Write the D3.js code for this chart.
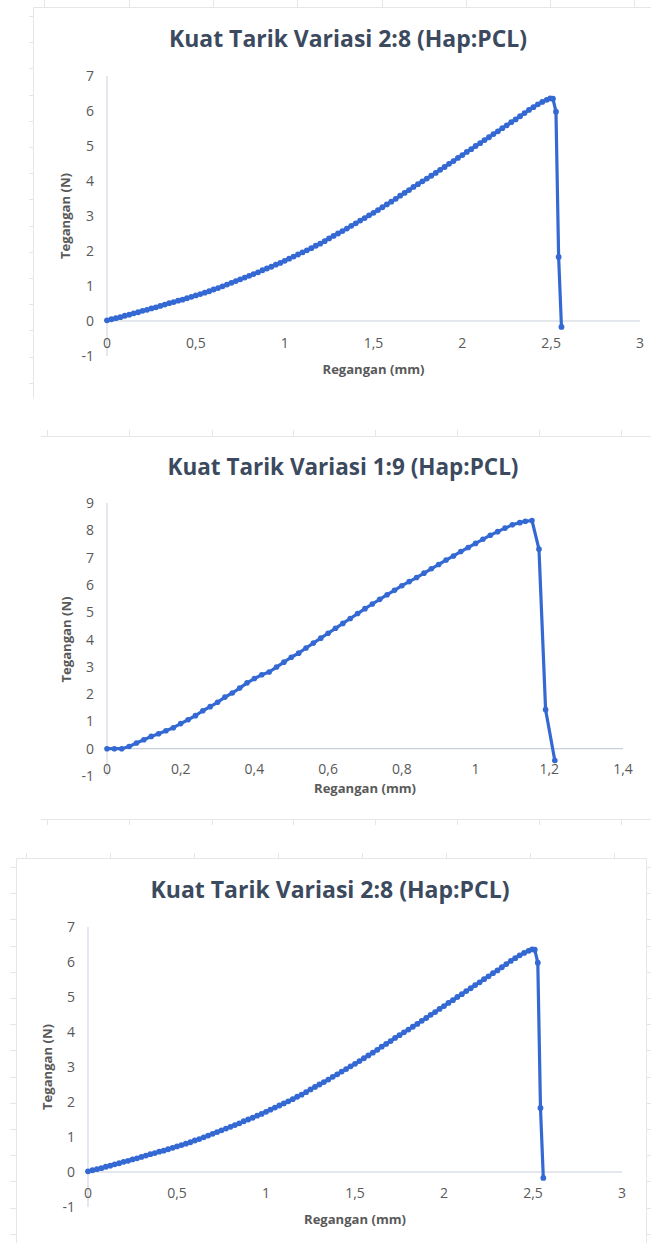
<!DOCTYPE html>
<html>
<head>
<meta charset="utf-8">
<script src="https://cdn.jsdelivr.net/npm/d3@7"></script>
<style>
  html, body { margin: 0; padding: 0; background: #fff; }
  svg { display: block; }
</style>
</head>
<body>
<div id="page"></div>
<script>
// variasi 2:8 (dipakai di grafik 1 dan 3)
const strain28 = [
  0, 0.025, 0.05, 0.075, 0.1, 0.125, 0.15, 0.175, 0.2, 0.225, 0.25, 0.275, 0.3, 0.325, 0.35, 0.375,
  0.4, 0.425, 0.45, 0.475, 0.5, 0.525, 0.55, 0.575, 0.6, 0.625, 0.65, 0.675, 0.7, 0.725, 0.75, 0.775,
  0.8, 0.825, 0.85, 0.875, 0.9, 0.925, 0.95, 0.975, 1, 1.025, 1.05, 1.075, 1.1, 1.125, 1.15, 1.175,
  1.2, 1.225, 1.25, 1.275, 1.3, 1.325, 1.35, 1.375, 1.4, 1.425, 1.45, 1.475, 1.5, 1.525, 1.55, 1.575,
  1.6, 1.625, 1.65, 1.675, 1.7, 1.725, 1.75, 1.775, 1.8, 1.825, 1.85, 1.875, 1.9, 1.925, 1.95, 1.975,
  2, 2.025, 2.05, 2.075, 2.1, 2.125, 2.15, 2.175, 2.2, 2.225, 2.25, 2.275, 2.3, 2.325, 2.35, 2.375,
  2.4, 2.425, 2.45, 2.475, 2.495, 2.51, 2.527, 2.542, 2.558
];
const stress28 = [
  0.02, 0.05, 0.08, 0.11, 0.15, 0.18, 0.22, 0.25, 0.29, 0.32, 0.36, 0.39, 0.43, 0.47, 0.51, 0.54,
  0.58, 0.61, 0.65, 0.69, 0.73, 0.77, 0.81, 0.85, 0.9, 0.94, 0.99, 1.04, 1.09, 1.14, 1.19, 1.24,
  1.29, 1.34, 1.39, 1.45, 1.5, 1.55, 1.61, 1.66, 1.72, 1.78, 1.84, 1.9, 1.96, 2.02, 2.08, 2.15,
  2.21, 2.28, 2.36, 2.43, 2.5, 2.57, 2.64, 2.72, 2.79, 2.87, 2.94, 3.02, 3.09, 3.17, 3.25, 3.33,
  3.41, 3.49, 3.58, 3.66, 3.74, 3.83, 3.91, 3.99, 4.07, 4.15, 4.23, 4.32, 4.4, 4.49, 4.57, 4.66,
  4.74, 4.83, 4.91, 5.0, 5.08, 5.17, 5.25, 5.34, 5.42, 5.51, 5.59, 5.68, 5.76, 5.85, 5.94, 6.03,
  6.11, 6.19, 6.26, 6.32, 6.36, 6.35, 5.98, 1.83, -0.17
];

// variasi 1:9
const strain19 = [
  0, 0.02, 0.04, 0.06, 0.08, 0.1, 0.12, 0.14, 0.16, 0.18, 0.2, 0.22, 0.24, 0.26, 0.28, 0.3,
  0.32, 0.34, 0.36, 0.38, 0.4, 0.42, 0.44, 0.46, 0.48, 0.5, 0.52, 0.54, 0.56, 0.58, 0.6, 0.62,
  0.64, 0.66, 0.68, 0.7, 0.72, 0.74, 0.76, 0.78, 0.8, 0.82, 0.84, 0.86, 0.88, 0.9, 0.92, 0.94,
  0.96, 0.98, 1, 1.02, 1.04, 1.06, 1.08, 1.1, 1.12, 1.135, 1.153, 1.172, 1.19, 1.215
];
const stress19 = [
  0, 0, 0, 0.08, 0.21, 0.33, 0.45, 0.55, 0.66, 0.77, 0.92, 1.06, 1.21, 1.39, 1.54, 1.7,
  1.89, 2.04, 2.22, 2.41, 2.57, 2.71, 2.81, 2.99, 3.17, 3.35, 3.5, 3.69, 3.87, 4.05, 4.23, 4.41,
  4.59, 4.77, 4.95, 5.13, 5.3, 5.47, 5.64, 5.8, 5.97, 6.12, 6.27, 6.43, 6.59, 6.75, 6.91, 7.06,
  7.22, 7.37, 7.52, 7.67, 7.82, 7.95, 8.08, 8.2, 8.28, 8.33, 8.36, 7.31, 1.43, -0.43
];

const xTicks28 = [0, 0.5, 1, 1.5, 2, 2.5, 3];
const yTicks28 = [-1, 0, 1, 2, 3, 4, 5, 6, 7];
const xTicks19 = [0, 0.2, 0.4, 0.6, 0.8, 1, 1.2, 1.4];
const yTicks19 = [-1, 0, 1, 2, 3, 4, 5, 6, 7, 8, 9];

const title28 = "Kuat Tarik Variasi 2:8 (Hap:PCL)";
const title19 = "Kuat Tarik Variasi 1:9 (Hap:PCL)";
const xLabel = "Regangan (mm)";
const yLabel = "Tegangan (N)";

const W = 651, H = 1243;
const blue = "#3469d3";
const gridCol = "#e4e6ea";
const fmt = (v) => String(v).replace(".", ",");

const svg = d3.select("#page").append("svg").attr("width", W).attr("height", H);

// sisa garis sel / bingkai dokumen
const frame = svg.append("g").attr("stroke", gridCol).attr("stroke-width", 1).attr("fill", "none");
frame.append("path").attr("d", "M33.5,398V7.5H651");
[44, 129, 213, 297, 382, 466, 550, 634].forEach((x) =>
  frame.append("line").attr("x1", x + 0.5).attr("x2", x + 0.5).attr("y1", 0).attr("y2", 7));
d3.range(16, 398, 26.2).forEach((y) =>
  frame.append("line").attr("x1", 29).attr("x2", 33).attr("y1", Math.round(y) + 0.5).attr("y2", Math.round(y) + 0.5));
frame.append("line").attr("x1", 41).attr("x2", W).attr("y1", 436.5).attr("y2", 436.5);
frame.append("line").attr("x1", 41).attr("x2", W).attr("y1", 819.5).attr("y2", 819.5);
[47, 129, 212, 293, 375, 457, 539, 621].forEach((x) => {
  frame.append("line").attr("x1", x + 0.5).attr("x2", x + 0.5).attr("y1", 430).attr("y2", 436);
  frame.append("line").attr("x1", x + 0.5).attr("x2", x + 0.5).attr("y1", 819).attr("y2", 825);
});
frame.append("path").attr("d", "M16.5,1243V858.5H646.5V1243");
[26, 110, 194, 278, 362, 446, 530, 614].forEach((x) =>
  frame.append("line").attr("x1", x + 0.5).attr("x2", x + 0.5).attr("y1", 853).attr("y2", 858));
d3.range(867, 1243, 26.2).forEach((y) => {
  const yy = Math.round(y) + 0.5;
  frame.append("line").attr("x1", 10).attr("x2", 16).attr("y1", yy).attr("y2", yy);
  frame.append("line").attr("x1", 646).attr("x2", 651).attr("y1", yy).attr("y2", yy);
});

function drawChart(c) {
  const g = svg.append("g");
  const x = d3.scaleLinear().domain(c.xDomain).range(c.xRange);
  const y = d3.scaleLinear().domain(c.yDomain).range(c.yRange);
  const data = c.xs.map((v, i) => ({ x: v, y: c.ys[i] }));

  // judul
  g.append("text")
    .attr("x", c.titleX)
    .attr("y", c.titleY)
    .attr("text-anchor", "middle")
    .attr("font-family", "'Open Sans', sans-serif")
    .attr("font-weight", 700)
    .attr("font-size", 24)
    .attr("fill", "#3b4a5e")
    .attr("textLength", c.titleW)
    .attr("lengthAdjust", "spacingAndGlyphs")
    .text(c.title);

  // garis sumbu
  g.append("line")
    .attr("x1", x(0)).attr("x2", x(0))
    .attr("y1", y(c.yDomain[0])).attr("y2", y(c.yDomain[1]))
    .attr("stroke", "#d3d9e2").attr("stroke-width", 1.2);
  g.append("line")
    .attr("x1", x(0)).attr("x2", x(c.xDomain[1]))
    .attr("y1", y(0)).attr("y2", y(0))
    .attr("stroke", "#c9d0da").attr("stroke-width", 1.2);

  const tickFont = "'Open Sans', 'Noto Sans', sans-serif";
  g.append("g")
    .selectAll("text")
    .data(c.yTicks)
    .join("text")
    .attr("x", x(0) - 13)
    .attr("y", (d) => y(d) + 5)
    .attr("text-anchor", "end")
    .attr("font-family", tickFont)
    .attr("font-size", 14)
    .attr("fill", "#595959")
    .text((d) => fmt(d));

  g.append("g")
    .selectAll("text")
    .data(c.xTicks)
    .join("text")
    .attr("x", (d) => x(d))
    .attr("y", y(0) + c.xLabOff)
    .attr("text-anchor", "middle")
    .attr("font-family", tickFont)
    .attr("font-size", 14)
    .attr("fill", "#595959")
    .text((d) => fmt(d));

  // judul sumbu
  g.append("text")
    .attr("x", (c.xRange[0] + c.xRange[1]) / 2)
    .attr("y", c.xTitleY)
    .attr("text-anchor", "middle")
    .attr("font-family", tickFont)
    .attr("font-weight", 700)
    .attr("font-size", 13)
    .attr("fill", "#595959")
    .attr("textLength", 102)
    .attr("lengthAdjust", "spacingAndGlyphs")
    .text(xLabel);
  g.append("text")
    .attr("transform", `translate(${c.yTitleX}, ${(c.yRange[0] + c.yRange[1]) / 2}) rotate(-90)`)
    .attr("text-anchor", "middle")
    .attr("font-family", tickFont)
    .attr("font-weight", 700)
    .attr("font-size", 13)
    .attr("fill", "#595959")
    .attr("textLength", 86)
    .attr("lengthAdjust", "spacingAndGlyphs")
    .text(yLabel);

  // garis data + penanda
  const line = d3.line().x((d) => x(d.x)).y((d) => y(d.y));
  g.append("path")
    .datum(data)
    .attr("d", line)
    .attr("fill", "none")
    .attr("stroke", blue)
    .attr("stroke-width", 3.2)
    .attr("stroke-linejoin", "round");
  g.append("g")
    .selectAll("circle")
    .data(data)
    .join("circle")
    .attr("cx", (d) => x(d.x))
    .attr("cy", (d) => y(d.y))
    .attr("r", c.r)
    .attr("fill", blue);
}

drawChart({
  xs: strain28, ys: stress28, title: title28,
  xDomain: [0, 3], yDomain: [-1, 7], xRange: [107, 640], yRange: [356, 76],
  xTicks: xTicks28, yTicks: yTicks28,
  titleX: 348, titleY: 47, titleW: 358, xLabOff: 27, xTitleY: 374, yTitleX: 70, r: 2.9
});
drawChart({
  xs: strain19, ys: stress19, title: title19,
  xDomain: [0, 1.4], yDomain: [-1, 9], xRange: [107, 623], yRange: [776, 503],
  xTicks: xTicks19, yTicks: yTicks19,
  titleX: 343, titleY: 475, titleW: 351, xLabOff: 25, xTitleY: 793, yTitleX: 71, r: 2.8
});
drawChart({
  xs: strain28, ys: stress28, title: title28,
  xDomain: [0, 3], yDomain: [-1, 7], xRange: [88, 622], yRange: [1207, 927],
  xTicks: xTicks28, yTicks: yTicks28,
  titleX: 330, titleY: 898, titleW: 359, xLabOff: 26, xTitleY: 1224, yTitleX: 52, r: 2.9
});
</script>
</body>
</html>
